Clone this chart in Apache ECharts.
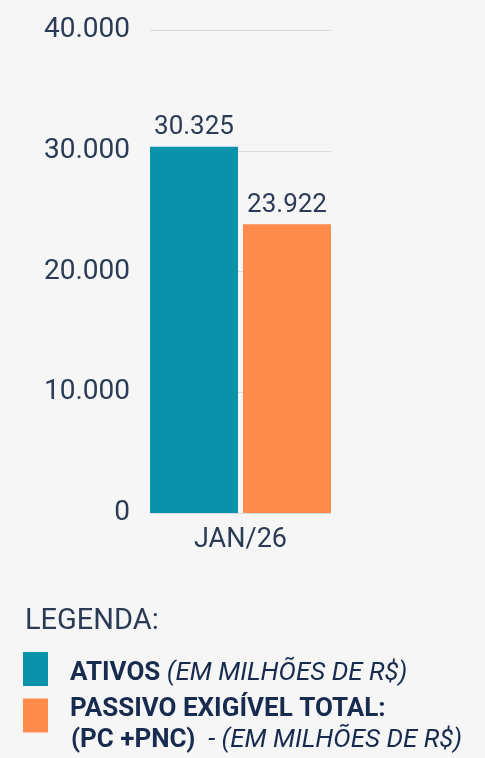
<!DOCTYPE html>
<html>
<head>
<meta charset="utf-8">
<script src="https://cdn.jsdelivr.net/npm/echarts@6/dist/echarts.min.js"></script>
<style>
html,body{margin:0;padding:0;background:#f6f6f6;}
#c{width:485px;height:758px;}
</style>
</head>
<body>
<div id="c"></div>
<script>
const categories = ['JAN/26'];
const ativos = [30325];
const passivo = [23922];
const yTicks = [0, 10000, 20000, 30000, 40000];
const seriesNames = ['ATIVOS', 'PASSIVO EXIGÍVEL TOTAL:'];

const TXT = '#2b3a55';
const LEG = '#172b4f';
const FONT = 'Roboto';
const fmt = v => String(v).replace(/\B(?=(\d{3})+(?!\d))/g, '.');

const rich = {
  b: { fontFamily: FONT, fontSize: 26, fontWeight: 'bold', color: LEG, lineHeight: 26 },
  i: { fontFamily: FONT, fontSize: 26, fontStyle: 'italic', color: LEG, lineHeight: 26 }
};

const chart = echarts.init(document.getElementById('c'));
chart.setOption({
  backgroundColor: '#f6f6f6',
  animation: false,
  textStyle: { fontFamily: FONT },
  title: {
    text: 'LEGENDA:', left: 20, top: 602,
    textStyle: { fontFamily: FONT, fontSize: 29, fontWeight: 'normal', color: TXT }
  },
  legend: {
    orient: 'vertical', left: 23, top: 652, padding: 0,
    icon: 'rect', itemWidth: 25, itemHeight: 34, itemGap: 10,
    selectedMode: false,
    formatter: function (name) {
      if (name === seriesNames[0]) return '{b|ATIVOS}{i| (EM MILHÕES DE R$)}';
      return '{b|PASSIVO EXIGÍVEL TOTAL:}';
    },
    textStyle: { color: LEG, rich: rich },
    data: [
      { name: seriesNames[0], textStyle: { padding: [9, 0, 0, 17], rich: rich } },
      { name: seriesNames[1], textStyle: { padding: [0, 0, 12, 17], rich: rich } }
    ]
  },
  graphic: [{
    type: 'text', left: 71, top: 727,
    style: {
      text: '{b|(PC +PNC)}{i|  - (EM MILHÕES DE R$)}',
      rich: {
        b: { fontFamily: FONT, fontSize: 26, fontWeight: 'bold', fill: LEG },
        i: { fontFamily: FONT, fontSize: 26, fontStyle: 'italic', fill: LEG }
      }
    }
  }],
  grid: { left: 150, right: 154, top: 30, bottom: 245, containLabel: false },
  xAxis: {
    type: 'category', data: categories,
    axisLine: { show: false }, axisTick: { show: false },
    axisLabel: { color: TXT, fontSize: 27, fontFamily: FONT, margin: 14 }
  },
  yAxis: {
    type: 'value', min: yTicks[0], max: yTicks[yTicks.length - 1], interval: yTicks[1] - yTicks[0],
    axisLine: { show: false }, axisTick: { show: false },
    splitLine: { lineStyle: { color: '#dcdcdc', width: 1 } },
    axisLabel: { color: TXT, fontSize: 28, fontFamily: FONT, margin: 20, formatter: v => fmt(v) }
  },
  series: [
    {
      name: seriesNames[0], type: 'bar', data: ativos,
      barCategoryGap: '0%', barGap: '5.7%',
      itemStyle: { color: '#0a92ab' },
      label: { show: true, position: 'top', distance: 6, color: TXT, fontSize: 26, fontFamily: FONT, formatter: p => fmt(p.value) }
    },
    {
      name: seriesNames[1], type: 'bar', data: passivo,
      barCategoryGap: '0%', barGap: '5.7%',
      itemStyle: { color: '#ff8b4c' },
      label: { show: true, position: 'top', distance: 6, color: TXT, fontSize: 26, fontFamily: FONT, formatter: p => fmt(p.value) }
    }
  ]
});
</script>
</body>
</html>
